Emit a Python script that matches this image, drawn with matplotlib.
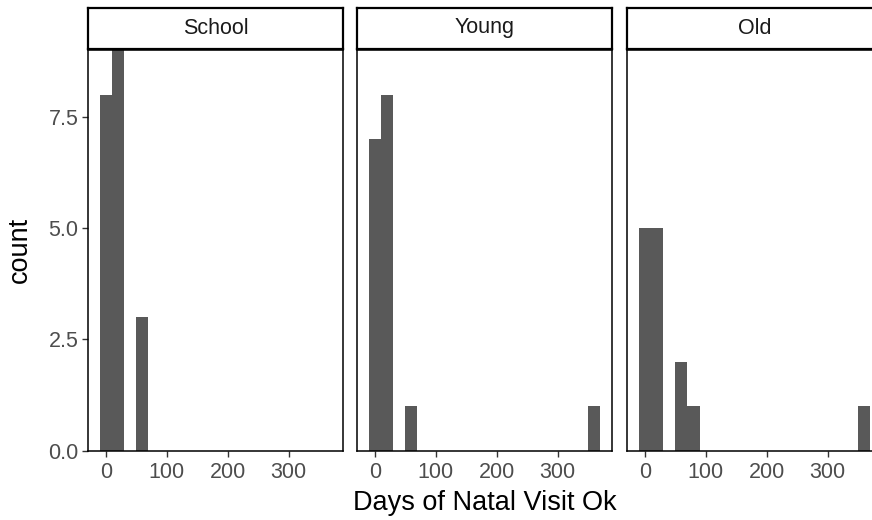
import matplotlib
matplotlib.use("Agg")
import matplotlib.pyplot as plt

# Data: histogram bins (binwidth 20) centred at these values
bin_centers = [0, 20, 40, 60, 80, 100, 120, 140, 160, 180, 200, 220, 240, 260, 280, 300, 320, 340, 360]
school_counts = [8, 9, 0, 3, 0, 0, 0, 0, 0, 0, 0, 0, 0, 0, 0, 0, 0, 0, 0]
young_counts = [7, 8, 0, 1, 0, 0, 0, 0, 0, 0, 0, 0, 0, 0, 0, 0, 0, 0, 1]
old_counts = [5, 5, 0, 2, 1, 0, 0, 0, 0, 0, 0, 0, 0, 0, 0, 0, 0, 0, 1]
panels = ["School", "Young", "Old"]
x_ticks = [0, 100, 200, 300]
y_ticks = [0.0, 2.5, 5.0, 7.5]
y_ticklabels = ["0.0", "2.5", "5.0", "7.5"]

plt.rcParams['font.family'] = ['Liberation Sans', 'DejaVu Sans']

W, H = 872, 520
fig = plt.figure(figsize=(W / 100, H / 100), dpi=100)

panel_lefts = [88, 357, 627]
panel_w = 255
panel_top = 50
panel_bottom = 450.7
strip_top = 7.5
strip_bottom = 48.5

counts_all = [school_counts, young_counts, old_counts]
tick_color = "#4D4D4D"
for i, (name, counts) in enumerate(zip(panels, counts_all)):
    ax = fig.add_axes([panel_lefts[i] / W, (H - panel_bottom) / H,
                       panel_w / W, (panel_bottom - panel_top) / H])
    ax.bar(bin_centers, counts, width=20, color="#595959", linewidth=0)
    ax.set_xlim(-29, 389)
    ax.set_ylim(0, 9)
    ax.set_xticks(x_ticks)
    ax.set_xticklabels([str(t) for t in x_ticks])
    for s in ax.spines.values():
        s.set_linewidth(1.1)
        s.set_color("black")
    ax.tick_params(axis='x', length=4, width=1.0, color="#333333",
                   labelsize=15.5, labelcolor=tick_color, pad=4)
    if i == 0:
        ax.set_yticks(y_ticks)
        ax.set_yticklabels(y_ticklabels)
        ax.tick_params(axis='y', length=4, width=1.0, color="#333333",
                       labelsize=15.5, labelcolor=tick_color, pad=3)
    else:
        ax.set_yticks([])
    # strip
    sax = fig.add_axes([panel_lefts[i] / W, (H - strip_bottom) / H,
                        panel_w / W, (strip_bottom - strip_top) / H])
    sax.set_xticks([])
    sax.set_yticks([])
    for s in sax.spines.values():
        s.set_linewidth(1.6)
        s.set_color("black")
    sax.text(0.5, 0.5, name, ha="center", va="center", fontsize=15.5,
             color="#1A1A1A", transform=sax.transAxes)

fig.text(485 / W, 1 - 503 / H, "Days of Natal Visit Ok", ha="center", va="center",
         fontsize=19.5, color="black")
fig.text(20 / W, 1 - 250 / H, "count", ha="center", va="center",
         fontsize=19.5, color="black", rotation=90)

fig.savefig("out.png", dpi=100)
